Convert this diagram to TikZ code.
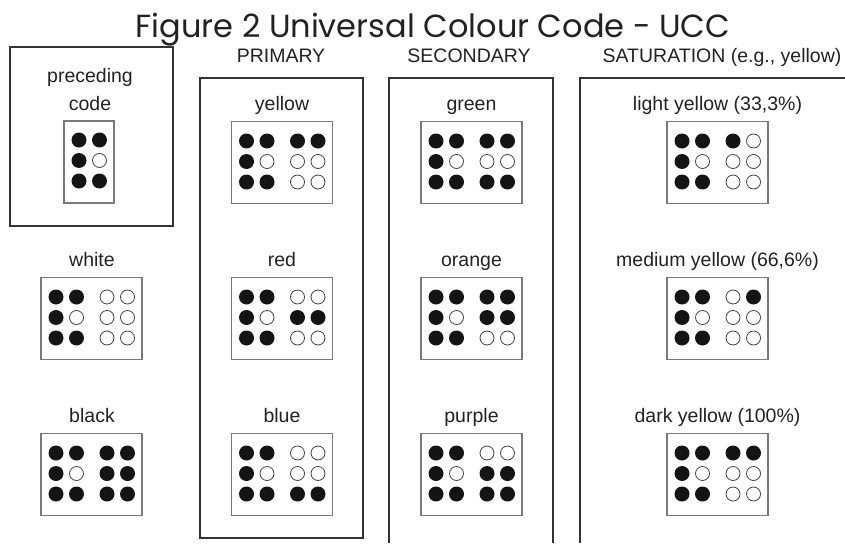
\documentclass[tikz,border=0pt]{standalone}
\usepackage{fontspec}
\setmainfont{Liberation Sans}
\newfontfamily\titlefont{Poppins}
\usepackage{xcolor}

\definecolor{framegray}{HTML}{333333}
\definecolor{boxgray}{HTML}{7A7A7A}
\definecolor{txt}{HTML}{222222}

% one braille cell: left x, top y, six dots row by row (1 = raised)
\newcommand{\uccdots}[3]{%
  \foreach \b [count=\i from 0] in {#3} {
    \pgfmathtruncatemacro{\dcol}{mod(\i,2)}
    \pgfmathtruncatemacro{\drow}{\i/2}
    \ifnum\b=1
      \fill[dotfull] (#1+\dcol*20.5, #2+\drow*20.5) circle (7.5pt);
    \else
      \draw[dotempty] (#1+\dcol*20.5, #2+\drow*20.5) circle (7pt);
    \fi
  }%
}
% code box: name, centre x, top y, dots of the colour cell
\newcommand{\uccbox}[4]{%
  \node[cellbox] (#1) at (#2, #3+41.5) {};
  \uccdots{#2-35.5}{#3+20}{1,1,1,0,1,1}
  \uccdots{#2+15.5}{#3+20}{#4}
}

\begin{document}
\begin{tikzpicture}[x=1pt, y=-1pt,
  frame/.style={draw=framegray, line width=1.8pt},
  cellbox/.style={draw=boxgray, line width=1.1pt, minimum width=101pt, minimum height=82pt, inner sep=0pt},
  lab/.style={anchor=base, text=txt, inner sep=0pt, font=\fontsize{19.5}{23}\selectfont},
  dotfull/.style={fill=black!92},
  dotempty/.style={draw=black!75, line width=0.8pt}]

  \useasboundingbox (0,0) rectangle (845,543);

  % Title
  \node[anchor=base, inner sep=0pt, text=txt, font=\titlefont\fontsize{32}{36}\selectfont] (title) at (433,37.5) {Figure 2 Universal Colour Code - UCC};

  % Column heads
  \node[lab] (headprim) at (281,62.5) {PRIMARY};
  \node[lab] (headsec) at (469,62.5) {SECONDARY};
  \node[lab] (headsat) at (722,62.5) {SATURATION (e.g., yellow)};

  % Preceding code
  \draw[frame] (10,47) rectangle (173,226);
  \node[lab] (preclab) at (90,82) {preceding};
  \node[lab] (codelab) at (90,110) {code};
  \node[cellbox, minimum width=50pt] (precbox) at (89,162) {};
  \uccdots{79}{140}{1,1,1,0,1,1}

  % White and black
  \node[lab] (whitelab) at (92,266) {white};
  \uccbox{whitebox}{91.5}{277}{0,0,0,0,0,0}
  \node[lab] (blacklab) at (92,422) {black};
  \uccbox{blackbox}{91.5}{433}{1,1,1,1,1,1}

  % Primary
  \draw[frame] (200,78) rectangle (363,538);
  \node[lab] (yellowlab) at (282,110) {yellow};
  \uccbox{yellowbox}{282}{121}{1,1,0,0,0,0}
  \node[lab] (redlab) at (282,266) {red};
  \uccbox{redbox}{282}{277}{0,0,1,1,0,0}
  \node[lab] (bluelab) at (282,422) {blue};
  \uccbox{bluebox}{282}{433}{0,0,0,0,1,1}

  % Secondary
  \draw[frame] (389,543) |- (553,78) -- (553,543);
  \node[lab] (greenlab) at (471.5,110) {green};
  \uccbox{greenbox}{471.5}{121}{1,1,0,0,1,1}
  \node[lab] (orangelab) at (471.5,266) {orange};
  \uccbox{orangebox}{471.5}{277}{1,1,1,1,0,0}
  \node[lab] (purplelab) at (471.5,422) {purple};
  \uccbox{purplebox}{471.5}{433}{0,0,1,1,1,1}

  % Saturation
  \draw[frame] (580,543) |- (845,78);
  \node[lab] (lightlab) at (717.5,110) {light yellow (33,3\%)};
  \uccbox{lightbox}{717.5}{121}{1,0,0,0,0,0}
  \node[lab] (mediumlab) at (717.5,266) {medium yellow (66,6\%)};
  \uccbox{mediumbox}{717.5}{277}{0,1,0,0,0,0}
  \node[lab] (darklab) at (717.5,422) {dark yellow (100\%)};
  \uccbox{darkbox}{717.5}{433}{1,1,0,0,0,0}
\end{tikzpicture}
\end{document}
